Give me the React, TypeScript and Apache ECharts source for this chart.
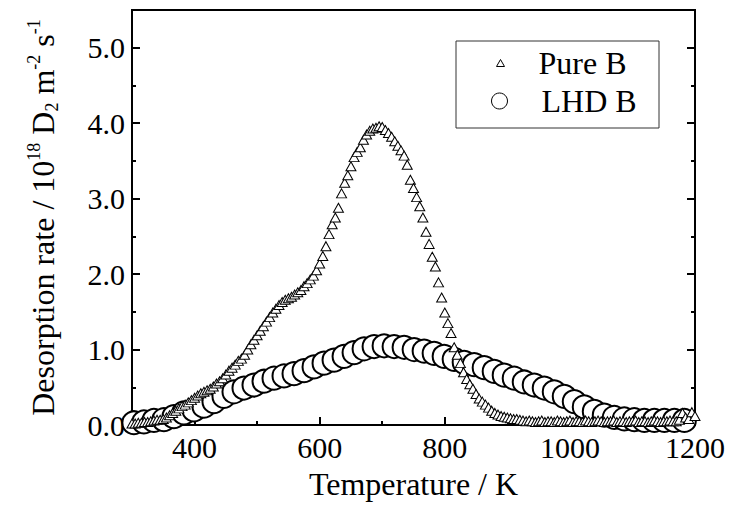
import React, { useEffect, useRef } from "react";
import * as echarts from "echarts";

// Pure B (triangles): temperature (K) and desorption rate (1e18 D2 m^-2 s^-1)
const pureT: number[] = [
  300, 305, 310, 315, 320, 325, 330, 335, 340, 345, 350, 355, 360, 365, 370, 375, 380, 385, 390, 395,
  400, 405, 410, 415, 420, 425, 430, 435, 440, 445, 450, 455, 460, 465, 470, 475, 480, 485, 490, 495,
  500, 505, 510, 515, 520, 525, 530, 535, 540, 545, 550, 555, 560, 565, 570, 575, 580, 585, 590, 595,
  600, 605, 610, 615, 620, 625, 630, 635, 640, 645, 650, 655, 660, 665, 670, 675, 680, 685, 690, 695,
  700, 705, 710, 715, 720, 725, 730, 735, 740, 745, 750, 755, 760, 765, 770, 775, 780, 785, 790, 795,
  800, 805, 810, 815, 820, 825, 830, 835, 840, 845, 850, 855, 860, 865, 870, 875, 880, 885, 890, 895,
  900, 905, 910, 915, 920, 925, 930, 935, 940, 945, 950, 955, 960, 965, 970, 975, 980, 985, 990, 995,
  1000, 1005, 1010, 1015, 1020, 1025, 1030, 1035, 1040, 1045, 1050, 1055, 1060, 1065, 1070, 1075, 1080, 1085, 1090, 1095,
  1100, 1105, 1110, 1115, 1120, 1125, 1130, 1135, 1140, 1145, 1150, 1155, 1160, 1165, 1170, 1175, 1180, 1185, 1190, 1195,
  1200,
];
const pureV: number[] = [
  0.02, 0.02, 0.03, 0.03, 0.04, 0.04, 0.05, 0.06, 0.07, 0.07, 0.08, 0.10, 0.13, 0.16, 0.19, 0.22, 0.25, 0.27, 0.30, 0.33,
  0.36, 0.39, 0.42, 0.44, 0.46, 0.48, 0.51, 0.55, 0.58, 0.62, 0.67, 0.72, 0.76, 0.80, 0.85, 0.88, 0.93, 1.00, 1.07, 1.13,
  1.19, 1.25, 1.31, 1.37, 1.43, 1.49, 1.54, 1.59, 1.63, 1.66, 1.68, 1.70, 1.73, 1.76, 1.79, 1.84, 1.88, 1.93, 1.98, 2.05,
  2.14, 2.24, 2.37, 2.53, 2.66, 2.75, 2.88, 3.07, 3.21, 3.31, 3.43, 3.55, 3.62, 3.68, 3.78, 3.85, 3.90, 3.93, 3.94, 3.96,
  3.95, 3.91, 3.87, 3.82, 3.76, 3.70, 3.64, 3.57, 3.45, 3.25, 3.14, 3.02, 2.90, 2.75, 2.56, 2.40, 2.23, 2.10, 1.89, 1.69,
  1.49, 1.35, 1.22, 1.03, 0.93, 0.82, 0.70, 0.61, 0.54, 0.48, 0.41, 0.35, 0.31, 0.27, 0.23, 0.19, 0.16, 0.14, 0.12, 0.11,
  0.10, 0.09, 0.08, 0.08, 0.07, 0.06, 0.05, 0.06, 0.05, 0.04, 0.05, 0.06, 0.04, 0.05, 0.05, 0.04, 0.06, 0.05, 0.04, 0.05,
  0.06, 0.04, 0.05, 0.05, 0.04, 0.06, 0.05, 0.04, 0.05, 0.06, 0.05, 0.04, 0.05, 0.05, 0.06, 0.04, 0.05, 0.05, 0.04, 0.05,
  0.05, 0.06, 0.04, 0.05, 0.05, 0.04, 0.05, 0.06, 0.05, 0.04, 0.05, 0.05, 0.06, 0.05, 0.05, 0.07, 0.16, 0.10, 0.08, 0.17,
  0.12,
];

// LHD B (circles)
const lhdT: number[] = [
  303, 319, 335, 351, 367, 383, 399, 415, 431, 447, 463, 479, 495, 511, 527, 543, 559, 575, 591, 607,
  623, 639, 655, 671, 687, 703, 719, 735, 751, 767, 783, 799, 815, 831, 847, 863, 879, 895, 911, 927,
  943, 959, 975, 991, 1007, 1023, 1039, 1055, 1071, 1087, 1103, 1119, 1135, 1151, 1167, 1183,
];
const lhdV: number[] = [
  0.03, 0.04, 0.06, 0.07, 0.11, 0.16, 0.20, 0.25, 0.31, 0.38, 0.44, 0.49, 0.53, 0.58, 0.62, 0.65, 0.68, 0.72, 0.77, 0.82,
  0.86, 0.91, 0.96, 1.01, 1.04, 1.05, 1.04, 1.03, 1.00, 0.98, 0.95, 0.91, 0.87, 0.83, 0.80, 0.76, 0.71, 0.66, 0.62, 0.57,
  0.53, 0.49, 0.44, 0.38, 0.31, 0.24, 0.18, 0.13, 0.10, 0.08, 0.07, 0.06, 0.06, 0.06, 0.06, 0.06,
];

const xMajor: number[] = [400, 600, 800, 1000, 1200];
const xMinor: number[] = [500, 700, 900, 1100];
const yMajor: number[] = [0, 1, 2, 3, 4, 5];
const yMinor: number[] = [0.5, 1.5, 2.5, 3.5, 4.5];

const FONT = "Liberation Serif";

export default function App() {
  const ref = useRef<HTMLDivElement>(null);
  useEffect(() => {
    if (!ref.current) return;
    const chart = echarts.init(ref.current, undefined, { renderer: "svg" });
    const tickStyle = { color: "#000", width: 2 };
    const hiddenLine = { show: false };
    const baseX = { type: "value", min: 300, max: 1200, splitLine: { show: false }, axisLine: hiddenLine };
    const baseY = { type: "value", min: 0, max: 5.5, splitLine: { show: false }, axisLine: hiddenLine };
    chart.setOption({
      animation: false,
      backgroundColor: "#fff",
      textStyle: { fontFamily: FONT },
      grid: {
        left: 132, right: 34, top: 10, bottom: 86,
        show: true, borderColor: "#000", borderWidth: 2,
        containLabel: false, outerBoundsMode: "none",
      },
      xAxis: [
        {
          ...baseX,
          position: "bottom",
          axisTick: { show: true, inside: true, length: 8, lineStyle: tickStyle, customValues: xMajor },
          axisLabel: {
            customValues: xMajor, color: "#000", fontSize: 30, fontFamily: FONT, margin: 7,
            formatter: (v: number) => String(v),
          },
          name: "Temperature / K",
          nameLocation: "middle",
          nameGap: 43,
          nameTextStyle: { color: "#000", fontSize: 32, fontFamily: FONT },
        },
        {
          ...baseX,
          position: "bottom",
          axisTick: { show: true, inside: true, length: 4, lineStyle: tickStyle, customValues: xMinor },
          axisLabel: { show: false },
        },
      ],
      yAxis: [
        {
          ...baseY,
          position: "left",
          axisTick: { show: true, inside: true, length: 8, lineStyle: tickStyle, customValues: yMajor },
          axisLabel: {
            customValues: yMajor, color: "#000", fontSize: 30, fontFamily: FONT, margin: 7,
            formatter: (v: number) => v.toFixed(1),
          },
          name: "{n|Desorption rate / 10}{sup|18}{n| D}{sub|2}{n| m}{sup|-2}{n| s}{sup|-1}",
          nameLocation: "middle",
          nameRotate: 90,
          nameGap: 71,
          nameTextStyle: {
            color: "#000", fontSize: 32, fontFamily: FONT,
            rich: {
              n: { fontSize: 32, fontFamily: FONT, color: "#000", lineHeight: 36, verticalAlign: "middle" },
              sup: { fontSize: 18, fontFamily: FONT, color: "#000", lineHeight: 18, verticalAlign: "top" },
              sub: { fontSize: 18, fontFamily: FONT, color: "#000", lineHeight: 18, verticalAlign: "bottom" },
            },
          },
        },
        {
          ...baseY,
          position: "left",
          axisTick: { show: true, inside: true, length: 4, lineStyle: tickStyle, customValues: yMinor },
          axisLabel: { show: false },
        },
        {
          ...baseY,
          position: "right",
          axisTick: { show: true, inside: true, length: 8, lineStyle: tickStyle, customValues: yMajor },
          axisLabel: { show: false },
        },
        {
          ...baseY,
          position: "right",
          axisTick: { show: true, inside: true, length: 4, lineStyle: tickStyle, customValues: yMinor },
          axisLabel: { show: false },
        },
      ],
      legend: [
        {
          data: [{ name: "Pure B", icon: "triangle" }],
          left: 491, top: 42, itemWidth: 8, itemHeight: 7,
          itemStyle: { color: "#fff", borderColor: "#000", borderWidth: 1 },
          textStyle: { color: "#000", fontSize: 32, fontFamily: FONT, lineHeight: 32, padding: [0, 0, 0, 29] },
          selectedMode: false,
        },
        {
          data: [{ name: "LHD B", icon: "circle" }],
          left: 486, top: 80, itemWidth: 16, itemHeight: 16,
          itemStyle: { color: "#fff", borderColor: "#000", borderWidth: 1 },
          textStyle: { color: "#000", fontSize: 32, fontFamily: FONT, lineHeight: 32, padding: [0, 0, 0, 29] },
          selectedMode: false,
        },
      ],
      graphic: [
        {
          type: "rect",
          shape: { x: 456, y: 41, width: 203, height: 87 },
          style: { fill: "none", stroke: "#333", lineWidth: 1 },
          z: 100,
        },
      ],
      series: [
        {
          name: "LHD B",
          type: "scatter",
          xAxisIndex: 0,
          yAxisIndex: 0,
          symbol: "circle",
          symbolSize: 23,
          itemStyle: { color: "#fff", borderColor: "#000", borderWidth: 2, opacity: 1 },
          data: lhdT.map((t, i) => [t, lhdV[i]]),
          clip: false,
        },
        {
          name: "Pure B",
          type: "scatter",
          xAxisIndex: 0,
          yAxisIndex: 0,
          symbol: "triangle",
          symbolSize: [10, 9],
          itemStyle: { color: "#fff", borderColor: "#000", borderWidth: 1, opacity: 1 },
          data: pureT.map((t, i) => [t, pureV[i]]),
          clip: false,
        },
      ],
    });
    return () => chart.dispose();
  }, []);
  return (
    <div
      ref={ref}
      style={{ position: "fixed", left: 0, top: 0, width: 729, height: 511, background: "#fff" }}
    />
  );
}
